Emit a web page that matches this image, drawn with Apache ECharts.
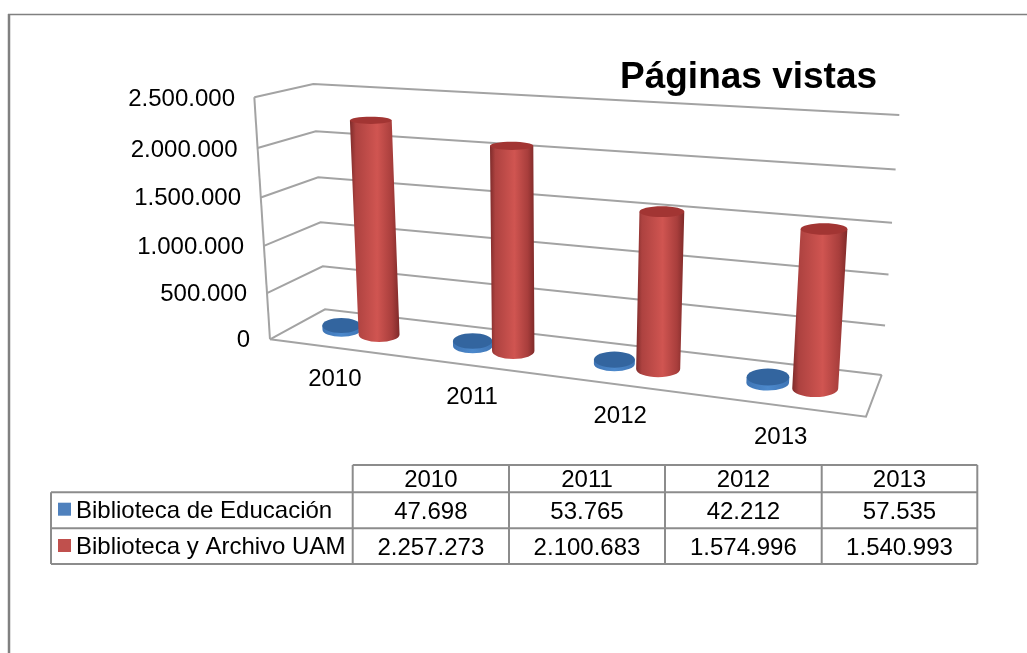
<!DOCTYPE html>
<html>
<head>
<meta charset="utf-8">
<title>Páginas vistas</title>
<script src="https://cdn.jsdelivr.net/npm/echarts@6/dist/echarts.min.js"></script>
<style>
html, body { margin: 0; padding: 0; background: #fff; }
#main { width: 1027px; height: 653px; }
</style>
</head>
<body>
<div id="main"></div>
<script>
var titleText = 'Páginas vistas';
var years = ['2010', '2011', '2012', '2013'];
var educacionName = 'Biblioteca de Educación';
var educacion = [47698, 53765, 42212, 57535];
var educacionLabels = ['47.698', '53.765', '42.212', '57.535'];
var uamName = 'Biblioteca y Archivo UAM';
var uam = [2257273, 2100683, 1574996, 1540993];
var uamLabels = ['2.257.273', '2.100.683', '1.574.996', '1.540.993'];
var yTicks = [0, 500000, 1000000, 1500000, 2000000, 2500000];
var yTickLabels = ['0', '500.000', '1.000.000', '1.500.000', '2.000.000', '2.500.000'];

var myChart = echarts.init(document.getElementById('main'));
var font = '"Liberation Sans", Arial, sans-serif';
var textSize = 24;

// corners of the 3d box in pixels (F front, B back, L left, R right, 0 floor, 1 top)
var FL0 = [270, 339.3], FR0 = [866, 416.7], BL0 = [325, 309.3], BR0 = [881.7, 375];
var FL1 = [254.3, 97.3], FR1 = [884, 140], BL1 = [313.3, 84], BR1 = [899.3, 115];

function lerp(a, b, t) {
    return [a[0] + (b[0] - a[0]) * t, a[1] + (b[1] - a[1]) * t];
}

// u, v in 0..1 along the grid, w depth (0 front, 1 back)
function project(u, v, w) {
    var up = u / (1.17 - 0.17 * u);
    var vp = v / (1.06 - 0.06 * v);
    var low = lerp(lerp(FL0, FR0, up), lerp(BL0, BR0, up), w);
    var high = lerp(lerp(FL1, FR1, up), lerp(BL1, BR1, up), w);
    return lerp(low, high, vp);
}

function toV(params, api, value) {
    var rect = params.coordSys;
    return (rect.y + rect.height - api.coord([0, value])[1]) / rect.height;
}

function toU(params, api, i, off) {
    var rect = params.coordSys;
    var x = api.coord([i, 0])[0] + off * api.size([1, 0])[0];
    return (x - rect.x) / rect.width;
}

var lineStyle = { stroke: '#a3a3a3', lineWidth: 2, fill: null };

function renderWall(params, api) {
    var v = toV(params, api, api.value(0));
    return {
        type: 'polyline',
        shape: { points: [project(0, v, 0), project(0, v, 1), project(1, v, 1)] },
        style: lineStyle
    };
}

function renderEdges(params, api) {
    if (params.dataIndex > 0) return null;
    return {
        type: 'group',
        children: [
            { type: 'polyline', shape: { points: [project(0, 0, 0), project(0, 1, 0)] }, style: lineStyle },
            { type: 'polyline', shape: { points: [project(0, 0, 0), project(1, 0, 0), project(1, 0, 1)] }, style: lineStyle }
        ]
    };
}

function cylinder(params, api, off, colors, radiusScale) {
    var i = api.value(0);
    var vTop = toV(params, api, api.value(1));
    var u = toU(params, api, i, off);
    var band = api.size([1, 0])[0];
    var du = 0.147 * band / params.coordSys.width;
    var flat = 0.147 * band;
    var base = project(u, 0, 0.5);
    var top = project(u, vTop, 0.5);
    var rxB = ((project(u + du, 0, 0.5)[0] - project(u - du, 0, 0.5)[0]) / 4 + flat / 2) * radiusScale;
    var rxT = ((project(u + du, vTop, 0.5)[0] - project(u - du, vTop, 0.5)[0]) / 4 + flat / 2) * radiusScale;
    var ryB = rxB * 0.37;
    var ryT = rxT * (0.4 - 0.25 * vTop);
    var path = 'M' + (top[0] - rxT) + ' ' + top[1] +
        'L' + (top[0] + rxT) + ' ' + top[1] +
        'L' + (base[0] + rxB) + ' ' + base[1] +
        'A' + rxB + ' ' + ryB + ' 0 0 1 ' + (base[0] - rxB) + ' ' + base[1] + 'Z';
    return {
        type: 'group',
        children: [
            {
                type: 'path',
                shape: { pathData: path },
                style: { fill: { type: 'linear', x: 0, y: 0, x2: 1, y2: 0, colorStops: colors.side } }
            },
            { type: 'ellipse', shape: { cx: top[0], cy: top[1], rx: rxT, ry: ryT }, style: { fill: colors.top } }
        ]
    };
}

var redColors = {
    top: '#a23533',
    side: [
        { offset: 0, color: '#7e2b2a' },
        { offset: 0.12, color: '#ad4240' },
        { offset: 0.55, color: '#d05551' },
        { offset: 0.85, color: '#a83e3c' },
        { offset: 1, color: '#7f2a29' }
    ]
};
var blueColors = {
    top: '#33659f',
    side: [
        { offset: 0, color: '#3f75b5' },
        { offset: 0.5, color: '#4c89cc' },
        { offset: 1, color: '#3f75b5' }
    ]
};

function renderYear(params, api) {
    var p = project(toU(params, api, params.dataIndex, 0), 0, 0);
    return {
        type: 'text',
        style: {
            x: p[0], y: p[1] + 32, text: years[params.dataIndex],
            align: 'center', verticalAlign: 'middle',
            fill: '#000', fontSize: textSize, fontFamily: font
        }
    };
}

// tick labels lean with the wall edge, so each one gets its own small shift
var tickRich = {};
var padRight = [0, 3, 6, 9, 12.5, 15];
var padTop = [3, 7, 10, 8, 9, 3];
yTickLabels.forEach(function (t, i) {
    tickRich['t' + i] = {
        fontSize: textSize, fontFamily: font, color: '#000',
        padding: [padTop[i], padRight[i], 0, 0]
    };
});

// data table under the chart
var colX = [352.7, 509, 665, 821.7, 977.3];
var rowY = [465, 492.3, 528.3, 564];
var tableLeft = 51;
var graphics = [];

function addLine(x1, y1, x2, y2, color, width) {
    graphics.push({
        type: 'line', silent: true,
        shape: { x1: x1, y1: y1, x2: x2, y2: y2 },
        style: { stroke: color, lineWidth: width }
    });
}

function addText(x, y, text, align) {
    graphics.push({
        type: 'text', silent: true,
        style: {
            x: x, y: y, text: text, align: align, verticalAlign: 'middle',
            fill: '#000', fontSize: textSize, fontFamily: font
        }
    });
}

// page frame
addLine(8, 14.5, 1027, 14.5, '#808080', 1.5);
addLine(9, 14, 9, 653, '#808080', 2.5);

addLine(colX[0], rowY[0], colX[4], rowY[0], '#8c8c8c', 2);
addLine(tableLeft, rowY[1], colX[4], rowY[1], '#8c8c8c', 2);
addLine(tableLeft, rowY[2], colX[4], rowY[2], '#8c8c8c', 2);
addLine(tableLeft, rowY[3], colX[4], rowY[3], '#8c8c8c', 2);
addLine(tableLeft, rowY[1], tableLeft, rowY[3], '#8c8c8c', 2);
colX.forEach(function (x) {
    addLine(x, rowY[0], x, rowY[3], '#8c8c8c', 2);
});

years.forEach(function (y, i) {
    var cx = (colX[i] + colX[i + 1]) / 2;
    addText(cx, 480, y, 'center');
    addText(cx, 512, educacionLabels[i], 'center');
    addText(cx, 548, uamLabels[i], 'center');
});
addText(76, 511, educacionName, 'left');
addText(76, 547, uamName, 'left');
graphics.push({ type: 'rect', silent: true, shape: { x: 58, y: 502.7, width: 13, height: 13 }, style: { fill: '#4f81bd' } });
graphics.push({ type: 'rect', silent: true, shape: { x: 58, y: 539, width: 13, height: 13 }, style: { fill: '#c0504d' } });

var option = {
    backgroundColor: '#fff',
    animation: false,
    title: {
        text: titleText,
        left: 620,
        top: 59,
        padding: 0,
        textStyle: { color: '#000', fontSize: 37, fontWeight: 'bold', fontFamily: font }
    },
    grid: { left: 270, top: 98, width: 596, height: 241 },
    xAxis: { type: 'category', data: years, show: false },
    yAxis: {
        type: 'value', min: 0, max: 2500000, interval: 500000,
        axisLine: { show: false }, axisTick: { show: false }, splitLine: { show: false },
        axisLabel: {
            margin: 20,
            rich: tickRich,
            formatter: function (value) {
                var i = yTicks.indexOf(value);
                return '{t' + i + '|' + yTickLabels[i] + '}';
            }
        }
    },
    graphic: graphics,
    series: [
        { type: 'custom', name: 'paredes', renderItem: renderWall, data: yTicks.map(function (t) { return [t]; }), encode: { y: 0 }, silent: true, z: 1 },
        { type: 'custom', name: 'bordes', renderItem: renderEdges, data: [[0, 0]], silent: true, z: 1 },
        {
            type: 'custom', name: educacionName, z: 2,
            renderItem: function (params, api) { return cylinder(params, api, -0.147, blueColors, 0.94); },
            data: educacion.map(function (v, i) { return [i, v]; })
        },
        {
            type: 'custom', name: uamName, z: 3,
            renderItem: function (params, api) { return cylinder(params, api, 0.147, redColors, 1); },
            data: uam.map(function (v, i) { return [i, v]; })
        },
        { type: 'custom', name: 'años', renderItem: renderYear, data: years.map(function (y, i) { return [i, 0]; }), silent: true, z: 4 }
    ]
};

myChart.setOption(option);
</script>
</body>
</html>
